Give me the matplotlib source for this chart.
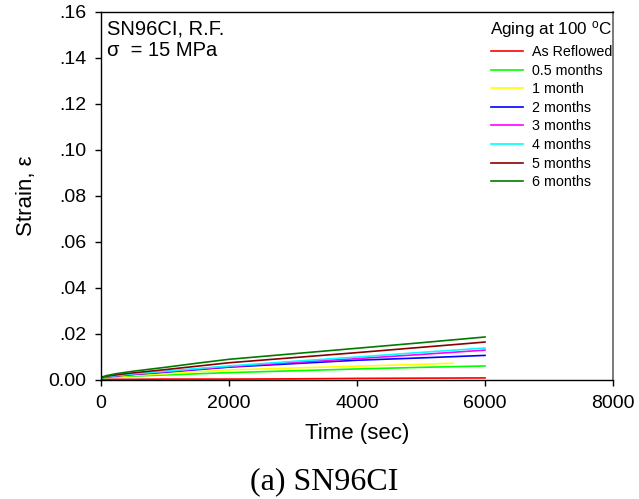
import matplotlib
matplotlib.use("Agg")
import matplotlib.pyplot as plt
from matplotlib.ticker import FixedLocator, FixedFormatter

plt.rcParams['font.family'] = ['Liberation Sans', 'DejaVu Sans']
plt.rcParams['mathtext.fontset'] = 'custom'
plt.rcParams['mathtext.rm'] = 'Liberation Sans'
plt.rcParams['mathtext.it'] = 'Liberation Sans:italic'

# Creep strain vs time for SN96CI (reflowed) at 15 MPa after aging at 100 C
time_sec = [0, 100, 250, 500, 1000, 1500, 2000, 3000, 4000, 5000, 6000]
time_1mo = [0, 100, 250, 500, 1000, 1500, 2000, 3000, 4000, 5000, 5500]

strain_reflowed = [0.0002, 0.0003, 0.0003, 0.0003, 0.0004, 0.0004, 0.0004, 0.0005, 0.0007, 0.0008, 0.0009]
strain_05mo = [0.0008, 0.0011, 0.0014, 0.0017, 0.0022, 0.0027, 0.0032, 0.0040, 0.0048, 0.0055, 0.0061]
strain_1mo = [0.0010, 0.0013, 0.0016, 0.0020, 0.0027, 0.0036, 0.0044, 0.0052, 0.0060, 0.0068, 0.0073]
strain_2mo = [0.0010, 0.0014, 0.0018, 0.0024, 0.0034, 0.0045, 0.0056, 0.0071, 0.0086, 0.0096, 0.0107]
strain_3mo = [0.0010, 0.0015, 0.0019, 0.0025, 0.0036, 0.0047, 0.0058, 0.0076, 0.0093, 0.0111, 0.0130]
strain_4mo = [0.0010, 0.0015, 0.0020, 0.0027, 0.0038, 0.0050, 0.0061, 0.0081, 0.0100, 0.0120, 0.0139]
strain_5mo = [0.0010, 0.0017, 0.0023, 0.0031, 0.0045, 0.0060, 0.0075, 0.0097, 0.0119, 0.0142, 0.0165]
strain_6mo = [0.0012, 0.0020, 0.0028, 0.0038, 0.0055, 0.0073, 0.0090, 0.0114, 0.0138, 0.0162, 0.0187]

labels = ['As Reflowed', '0.5 months', '1 month', '2 months', '3 months',
          '4 months', '5 months', '6 months']
colors = ['#ff0000', '#00ff00', '#ffff00', '#0000ff', '#ff00ff',
          '#00ffff', '#8b0000', '#007a00']
series = [(time_sec, strain_reflowed), (time_sec, strain_05mo), (time_1mo, strain_1mo),
          (time_sec, strain_2mo), (time_sec, strain_3mo), (time_sec, strain_4mo),
          (time_sec, strain_5mo), (time_sec, strain_6mo)]

y_ticks = [0.0, 0.02, 0.04, 0.06, 0.08, 0.10, 0.12, 0.14, 0.16]
y_tick_labels = ['0.00', '.02', '.04', '.06', '.08', '.10', '.12', '.14', '.16']
x_ticks = [0, 2000, 4000, 6000, 8000]

fig = plt.figure(figsize=(6.39, 4.99), dpi=100)
ax = fig.add_axes([101/639, 1 - 380/499, 512/639, 368/499])

for (t, s), c, lab in zip(series, colors, labels):
    ax.plot(t, s, color=c, lw=1.2, label=lab)

ax.set_xlim(0, 8000)
ax.set_ylim(0, 0.16)
ax.xaxis.set_major_locator(FixedLocator(x_ticks))
ax.yaxis.set_major_locator(FixedLocator(y_ticks))
ax.yaxis.set_major_formatter(FixedFormatter(y_tick_labels))
ax.tick_params(direction='out', length=4, width=1, labelsize=14, pad=6.5)

for side in ['left', 'bottom', 'top']:
    ax.spines[side].set_linewidth(1.0)
ax.spines['right'].set_color('#707070')
ax.spines['right'].set_linewidth(1.3)

ax.set_xlabel('Time (sec)', fontsize=16, labelpad=8)
ax.set_ylabel('Strain, \u03b5', fontsize=16, labelpad=8)

ax.text(0.012, 0.98, 'SN96CI, R.F.\n\u03c3  = 15 MPa', transform=ax.transAxes,
        fontsize=14.5, va='top', ha='left', linespacing=1.15)

leg = ax.legend(loc='upper right', bbox_to_anchor=(1.015, 1.003), frameon=False,
                fontsize=10.3, title='Aging at 100 $^{\\mathrm{o}}$C',
                title_fontsize=12.3, handlelength=2.25, handletextpad=0.6,
                labelspacing=0.32, borderaxespad=0.2)
leg._legend_box.align = 'right'

fig.text(0.507, 0.02, '(a) SN96CI', fontsize=23, ha='center', va='baseline',
         family=['Liberation Serif', 'DejaVu Serif'])

fig.savefig('out.png', dpi=100)
